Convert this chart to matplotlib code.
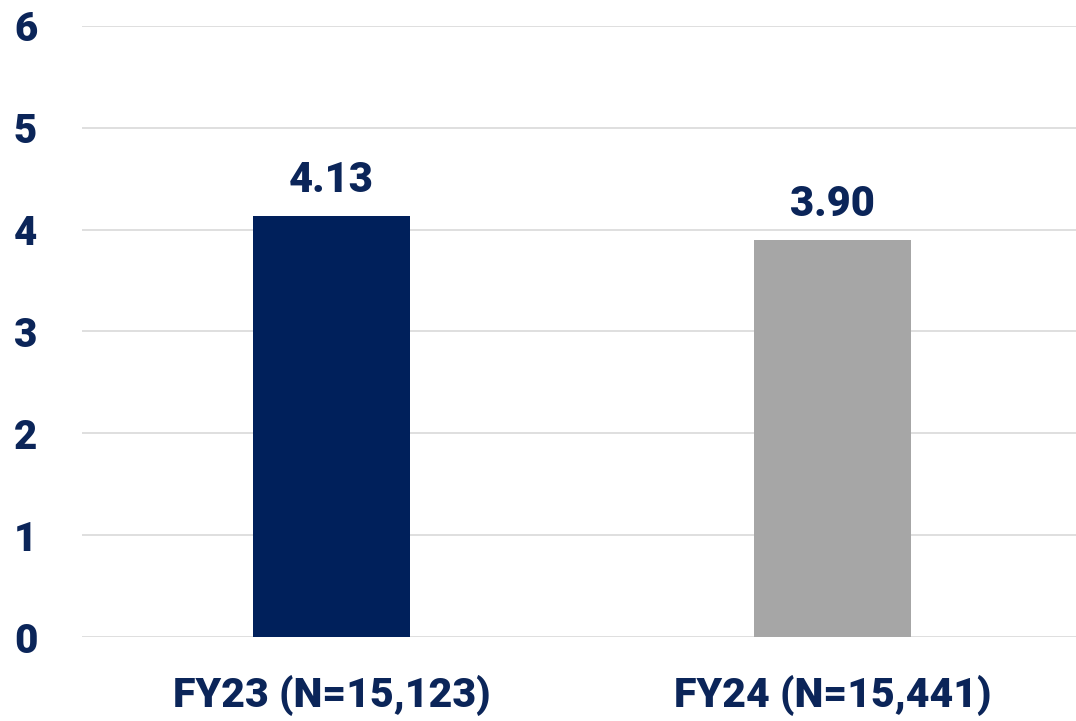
import matplotlib.pyplot as plt

categories = ["FY23 (N=15,123)", "FY24 (N=15,441)"]
values = [4.13, 3.90]
labels = ["4.13", "3.90"]
colors = ["#00205B", "#A6A6A6"]
text_color = "#0B2559"

plt.rcParams['font.family'] = ['Roboto', 'DejaVu Sans']

fig = plt.figure(figsize=(10.76, 7.21), dpi=100)
ax = fig.add_axes([0.0762, 0.1165, 0.9238, 0.8475])

x = range(len(categories))
ax.bar(x, values, width=0.314, color=colors, zorder=3)

for i, v in enumerate(values):
    ax.text(i, v + 0.15, labels[i], ha="center", va="bottom",
            fontsize=30, fontweight="heavy", color=text_color)

ax.set_xlim(-0.498, 1.486)
ax.set_ylim(0, 6)
ax.set_yticks(range(7))
ax.set_xticks(list(x))
ax.set_xticklabels(categories)
ax.grid(axis="y", color="#D9D9D9", linewidth=1.2, zorder=0)
for s in ax.spines.values():
    s.set_visible(False)
ax.tick_params(axis="both", length=0, colors=text_color)
ax.tick_params(axis="y", labelsize=29, pad=49)
ax.tick_params(axis="x", labelsize=29.5, pad=27)
for t in ax.get_xticklabels() + ax.get_yticklabels():
    t.set_fontweight("heavy")
for t in ax.get_yticklabels():
    t.set_horizontalalignment("left")

fig.savefig("out.png", dpi=100)
